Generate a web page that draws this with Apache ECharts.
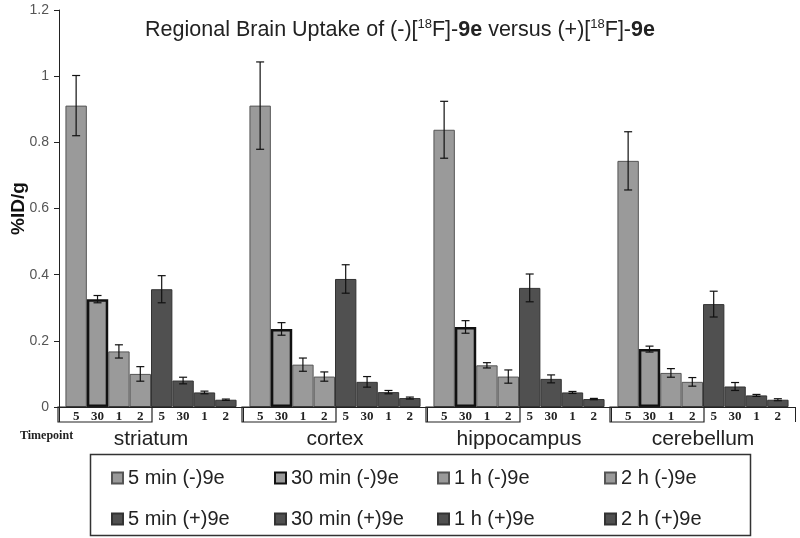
<!DOCTYPE html>
<html><head><meta charset="utf-8">
<script src="https://cdn.jsdelivr.net/npm/echarts@6/dist/echarts.min.js"></script>
<style>html,body{margin:0;padding:0;background:#fff}#c{width:800px;height:538px}</style>
</head><body><div id="c"></div>
<script>
// ---- data ----
const regions = ['striatum', 'cortex', 'hippocampus', 'cerebellum'];
const seriesNames = ['5 min (-)9e', '30 min (-)9e', '1 h (-)9e', '2 h (-)9e',
                     '5 min (+)9e', '30 min (+)9e', '1 h (+)9e', '2 h (+)9e'];
const timepointLabels = ['5', '30', '1', '2', '5', '30', '1', '2'];
const yTickValues = [0, 0.2, 0.4, 0.6, 0.8, 1, 1.2];

const minus5min  = [0.911, 0.911, 0.838, 0.744];
const minus30min = [0.326, 0.236, 0.242, 0.175];
const minus1h    = [0.168, 0.128, 0.126, 0.103];
const minus2h    = [0.100, 0.092, 0.092, 0.076];
const plus5min   = [0.356, 0.387, 0.360, 0.311];
const plus30min  = [0.080, 0.076, 0.085, 0.062];
const plus1h     = [0.044, 0.045, 0.044, 0.035];
const plus2h     = [0.022, 0.027, 0.024, 0.022];

const errMinus5min  = [0.091, 0.132, 0.086, 0.088];
const errMinus30min = [0.011, 0.019, 0.019, 0.009];
const errMinus1h    = [0.020, 0.020, 0.008, 0.013];
const errMinus2h    = [0.022, 0.014, 0.020, 0.013];
const errPlus5min   = [0.041, 0.043, 0.042, 0.039];
const errPlus30min  = [0.010, 0.016, 0.012, 0.012];
const errPlus1h     = [0.004, 0.005, 0.003, 0.003];
const errPlus2h     = [0.002, 0.003, 0.002, 0.003];

const allValues = [minus5min, minus30min, minus1h, minus2h, plus5min, plus30min, plus1h, plus2h];
const allErrors = [errMinus5min, errMinus30min, errMinus1h, errMinus2h, errPlus5min, errPlus30min, errPlus1h, errPlus2h];

// ---- styles ----
const LIGHT = '#9a9a9a', DARK = '#505050';
const CAT_GAP = 0.07;
const sans = 'Liberation Sans, Arial, sans-serif';
const serif = 'Liberation Serif, Times New Roman, serif';

const barSeries = seriesNames.map((name, i) => ({
  name: name,
  type: 'bar',
  data: allValues[i],
  barGap: '0%',
  barCategoryGap: (CAT_GAP * 100) + '%',
  itemStyle: {
    color: i < 4 ? LIGHT : DARK,
    borderColor: i === 1 ? '#111' : (i < 4 ? '#555' : '#333'),
    borderWidth: i === 1 ? 2.5 : 1
  },
  label: {
    show: true,
    position: ['50%', '100%'],
    offset: [0, 3],
    align: 'center',
    verticalAlign: 'top',
    formatter: timepointLabels[i],
    fontFamily: serif,
    fontWeight: 'bold',
    fontSize: 13,
    color: '#222'
  },
  emphasis: { disabled: true },
  z: 2
}));

const errData = [];
allValues.forEach((vals, s) => vals.forEach((v, c) => errData.push([c, v, s, allErrors[s][c]])));

const errorSeries = {
  type: 'custom',
  name: 'err',
  data: errData,
  encode: { x: 0, y: 1 },
  z: 10,
  silent: true,
  renderItem: function (params, api) {
    const c = api.value(0), v = api.value(1), s = api.value(2), e = api.value(3);
    const p = api.coord([c, v]);
    const bw = api.size([1, 0])[0];
    const groupW = bw * (1 - CAT_GAP);
    const barW = groupW / seriesNames.length;
    const x = p[0] - groupW / 2 + (s + 0.5) * barW;
    const yt = api.coord([c, v + e])[1];
    const yb = api.coord([c, v - e])[1];
    const cap = 4;
    const st = { stroke: '#111', lineWidth: 1.2 };
    return {
      type: 'group',
      children: [
        { type: 'line', shape: { x1: x, y1: yt, x2: x, y2: yb }, style: st },
        { type: 'line', shape: { x1: x - cap, y1: yt, x2: x + cap, y2: yt }, style: st },
        { type: 'line', shape: { x1: x - cap, y1: yb, x2: x + cap, y2: yb }, style: st }
      ]
    };
  }
};

const boxSeries = {
  type: 'custom',
  name: 'boxes',
  data: regions.map((r, i) => [i, 0]),
  encode: { x: 0, y: 1 },
  clip: false,
  silent: true,
  z: 5,
  renderItem: function (params, api) {
    const p = api.coord([api.value(0), 0]);
    const bw = api.size([1, 0])[0];
    return {
      type: 'rect',
      shape: { x: p[0] - bw / 2 - 1, y: p[1], width: bw / 2 + 2, height: 15 },
      style: { fill: null, stroke: '#222', lineWidth: 1.2 }
    };
  }
};

const legendCols = [[0, 4], [1, 5], [2, 6], [3, 7]];
const legendLefts = [106, 269, 432, 599];
const legends = legendCols.map((idx, k) => ({
  orient: 'vertical',
  left: legendLefts[k],
  top: 462,
  data: idx.map(i => seriesNames[i]),
  itemWidth: 11,
  itemHeight: 11,
  itemGap: 19,
  selectedMode: false,
  icon: 'rect',
  textStyle: { fontFamily: sans, fontSize: 20, color: '#222', lineHeight: 22 }
}));

const chart = echarts.init(document.getElementById('c'), null, { renderer: 'canvas' });
chart.setOption({
  animation: false,
  backgroundColor: '#fff',
  title: [{
    text: 'Regional Brain Uptake of (-)[{sup|18}F]-{b|9e} versus (+)[{sup|18}F]-{b|9e}',
    left: 'center',
    top: 13,
    textStyle: {
      fontFamily: sans, fontSize: 21.5, fontWeight: 'normal', color: '#222', lineHeight: 25,
      rich: {
        sup: { fontFamily: sans, fontSize: 13, color: '#222', verticalAlign: 'top', lineHeight: 25, padding: [0, 0, 8, 0] },
        b: { fontFamily: sans, fontSize: 21.5, fontWeight: 'bold', color: '#222', lineHeight: 25 }
      }
    }
  }, {
    text: 'Timepoint',
    left: 15,
    top: 425,
    textStyle: { fontFamily: serif, fontSize: 12, fontWeight: 'bold', color: '#222' }
  }],
  legend: legends,
  grid: { left: 59, right: 5, top: 10, bottom: 131, containLabel: false, outerBoundsMode: 'none' },
  xAxis: {
    type: 'category',
    data: regions,
    axisLine: { show: true, lineStyle: { color: '#222', width: 1 } },
    axisTick: { show: true, length: 15, lineStyle: { color: '#222' } },
    axisLabel: { margin: 22, fontFamily: sans, fontSize: 21, color: '#222' }
  },
  yAxis: {
    type: 'value',
    min: 0, max: 1.2, interval: 0.2,
    name: '%ID/g',
    nameLocation: 'middle',
    nameGap: 31,
    nameMoveOverlap: false,
    nameTextStyle: { fontFamily: sans, fontSize: 19, fontWeight: 'bold', color: '#111' },
    splitLine: { show: false },
    axisLine: { show: true, lineStyle: { color: '#222', width: 1 } },
    axisTick: { show: true, length: 5, lineStyle: { color: '#222' } },
    axisLabel: {
      margin: 10, fontFamily: sans, fontSize: 14, color: '#555',
      formatter: v => String(yTickValues.find(t => Math.abs(t - v) < 1e-9) ?? v)
    }
  },
  graphic: [{
    type: 'rect',
    left: 88, top: 452,
    shape: { width: 660, height: 81 },
    style: { fill: null, stroke: '#333', lineWidth: 1.5 },
    silent: true
  }],
  series: [...barSeries, errorSeries, boxSeries]
});
</script></body></html>
